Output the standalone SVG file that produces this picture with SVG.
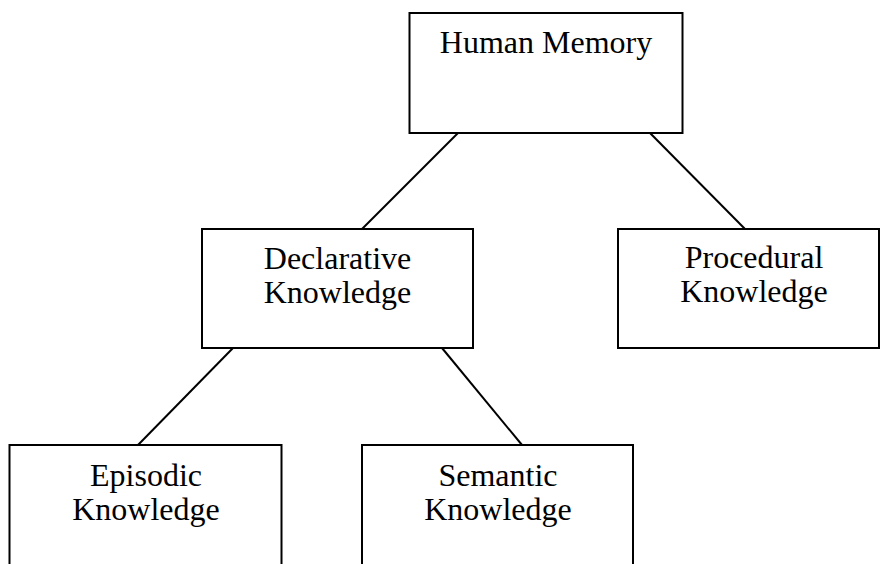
<svg xmlns="http://www.w3.org/2000/svg" width="880" height="564" viewBox="0 0 880 564">
<style>
.box{fill:#fff;stroke:#000;stroke-width:2}
.lbl{font-family:"Liberation Serif","Times New Roman",serif;font-size:32px;fill:#000;text-anchor:middle}
.conn{stroke:#000;stroke-width:2;fill:none}
</style>
<rect width="880" height="564" fill="#fff"/>
<g id="connectors">
<line class="conn" x1="458" y1="133" x2="362" y2="229"/>
<line class="conn" x1="650" y1="133" x2="745" y2="229"/>
<line class="conn" x1="233" y1="348" x2="138" y2="445"/>
<line class="conn" x1="442" y1="348" x2="522" y2="445"/>
</g>
<g id="human-memory">
<rect class="box" x="409.5" y="13" width="273" height="120"/>
<text class="lbl" x="546" y="53">Human Memory</text>
</g>
<g id="declarative">
<rect class="box" x="202" y="229" width="271" height="119"/>
<text class="lbl" x="337.5" y="269">Declarative</text>
<text class="lbl" x="337.5" y="303">Knowledge</text>
</g>
<g id="procedural">
<rect class="box" x="618" y="229" width="261" height="119"/>
<text class="lbl" x="754" y="268">Procedural</text>
<text class="lbl" x="754" y="302">Knowledge</text>
</g>
<g id="episodic">
<rect class="box" x="9.5" y="445" width="272" height="130"/>
<text class="lbl" x="146" y="486">Episodic</text>
<text class="lbl" x="146" y="520">Knowledge</text>
</g>
<g id="semantic">
<rect class="box" x="362" y="445" width="271" height="130"/>
<text class="lbl" x="498" y="486">Semantic</text>
<text class="lbl" x="498" y="520">Knowledge</text>
</g>
</svg>
